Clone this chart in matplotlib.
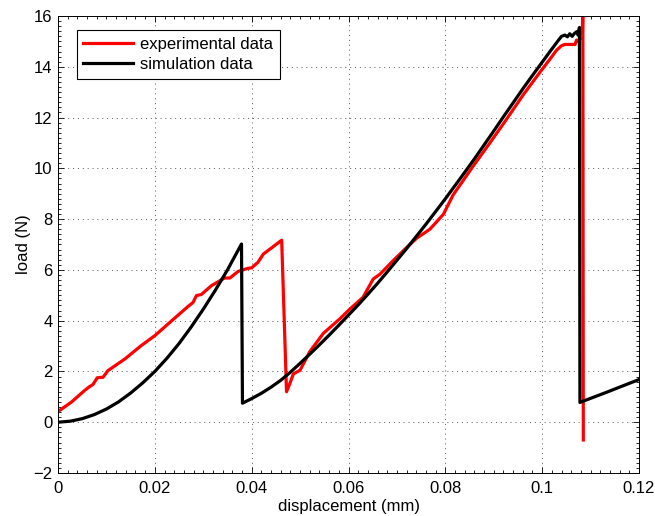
import matplotlib
matplotlib.use("Agg")
import matplotlib.pyplot as plt
from matplotlib.ticker import MultipleLocator, AutoMinorLocator

plt.rcParams["font.family"] = ["Liberation Sans", "DejaVu Sans"]
plt.rcParams["font.size"] = 12

# experimental load-displacement record
exp_disp = [0.0, 0.00275, 0.0055, 0.0065, 0.0072, 0.0081, 0.0093, 0.0103, 0.0138,
            0.0172, 0.020, 0.0241, 0.0268, 0.0279, 0.0286, 0.0296, 0.0317, 0.0344,
            0.0355, 0.0372, 0.0392, 0.0400, 0.0413, 0.0424, 0.0462,
            0.0472, 0.0479, 0.0486, 0.0500, 0.0520, 0.0548, 0.0582, 0.0603,
            0.0630, 0.0651, 0.0665, 0.0692, 0.0720, 0.0741, 0.0768, 0.0796,
            0.0816, 0.0858, 0.0892, 0.0927, 0.0961, 0.0996, 0.1016, 0.1030,
            0.1040, 0.1047, 0.1068, 0.1071, 0.1074, 0.1083, 0.1084, 0.1085]
exp_load = [0.42, 0.79, 1.25, 1.40, 1.48, 1.75, 1.77, 2.03, 2.49,
            3.02, 3.41, 4.10, 4.55, 4.72, 4.99, 5.03, 5.38, 5.68,
            5.68, 5.94, 6.06, 6.08, 6.30, 6.62, 7.17,
            1.20, 1.53, 1.90, 2.05, 2.78, 3.50, 4.07, 4.46,
            4.92, 5.64, 5.83, 6.36, 6.88, 7.25, 7.60, 8.19,
            8.95, 10.10, 11.00, 11.95, 12.90, 13.80, 14.30, 14.66,
            14.83, 14.88, 14.88, 15.05, 15.00, 15.20, 16.50, -0.70]

# simulated response
sim_disp = [0.0, 0.0025, 0.005, 0.0075, 0.010, 0.0125, 0.015, 0.0175, 0.020,
            0.0225, 0.025, 0.0275, 0.030, 0.0325, 0.035, 0.0379,
            0.0381, 0.040, 0.042, 0.044, 0.046, 0.048, 0.050, 0.052, 0.054,
            0.056, 0.058, 0.060, 0.062, 0.064, 0.066, 0.068, 0.070, 0.072,
            0.074, 0.076, 0.078, 0.080, 0.082, 0.084, 0.086, 0.088, 0.090,
            0.092, 0.094, 0.096, 0.098, 0.100, 0.102, 0.1033,
            0.1040, 0.1047, 0.1052, 0.1057, 0.1062, 0.1066, 0.1071, 0.1074,
            0.1077, 0.1078, 0.1100, 0.1133, 0.1165, 0.1200]
sim_load = [0.0, 0.04, 0.14, 0.30, 0.52, 0.80, 1.15, 1.55, 2.00,
            2.52, 3.10, 3.75, 4.45, 5.20, 6.00, 7.02,
            0.75, 0.93, 1.14, 1.38, 1.65, 1.97, 2.32, 2.68, 3.05,
            3.43, 3.82, 4.22, 4.62, 5.04, 5.47, 5.92, 6.38, 6.84,
            7.32, 7.80, 8.30, 8.80, 9.32, 9.84, 10.37, 10.92, 11.47,
            12.03, 12.58, 13.13, 13.66, 14.18, 14.70, 15.03,
            15.20, 15.25, 15.18, 15.30, 15.20, 15.30, 15.38, 15.25,
            15.55, 0.78, 0.94, 1.18, 1.42, 1.68]

fig = plt.figure(figsize=(6.55, 5.16), dpi=100)
ax = fig.add_axes([58 / 655, 1 - 473 / 516, 581 / 655, 457 / 516])

ax.plot(exp_disp, exp_load, color="red", lw=2.3, label="experimental data")
ax.plot(sim_disp, sim_load, color="black", lw=2.3, label="simulation data")

ax.set_xlim(0, 0.12)
ax.set_ylim(-2, 16)
ax.xaxis.set_major_locator(MultipleLocator(0.02))
ax.yaxis.set_major_locator(MultipleLocator(2))
ax.xaxis.set_major_formatter(plt.FuncFormatter(lambda v, p: f"{v:g}"))
ax.xaxis.set_minor_locator(AutoMinorLocator(10))
ax.yaxis.set_minor_locator(AutoMinorLocator(10))
ax.tick_params(which="both", direction="in", top=True, right=True, width=0.6)
ax.tick_params(which="major", length=4, pad=4, labelsize=12)
ax.tick_params(axis="x", which="major", pad=6)
ax.tick_params(which="minor", length=2)
ax.grid(True, which="major", color="0.35", linestyle=(0, (1, 4)), lw=0.7)
for s in ax.spines.values():
    s.set_linewidth(0.7)

ax.set_xlabel("displacement (mm)", labelpad=2)
ax.set_ylabel("load (N)", labelpad=2)

leg = ax.legend(loc="upper left", bbox_to_anchor=(0.032, 0.969), borderaxespad=0,
                fancybox=False, edgecolor="black", framealpha=1,
                handlelength=3.0, handletextpad=0.4, labelspacing=0.3,
                borderpad=0.4, fontsize=12)
leg.get_frame().set_linewidth(0.8)

fig.savefig("out.png", dpi=100)
